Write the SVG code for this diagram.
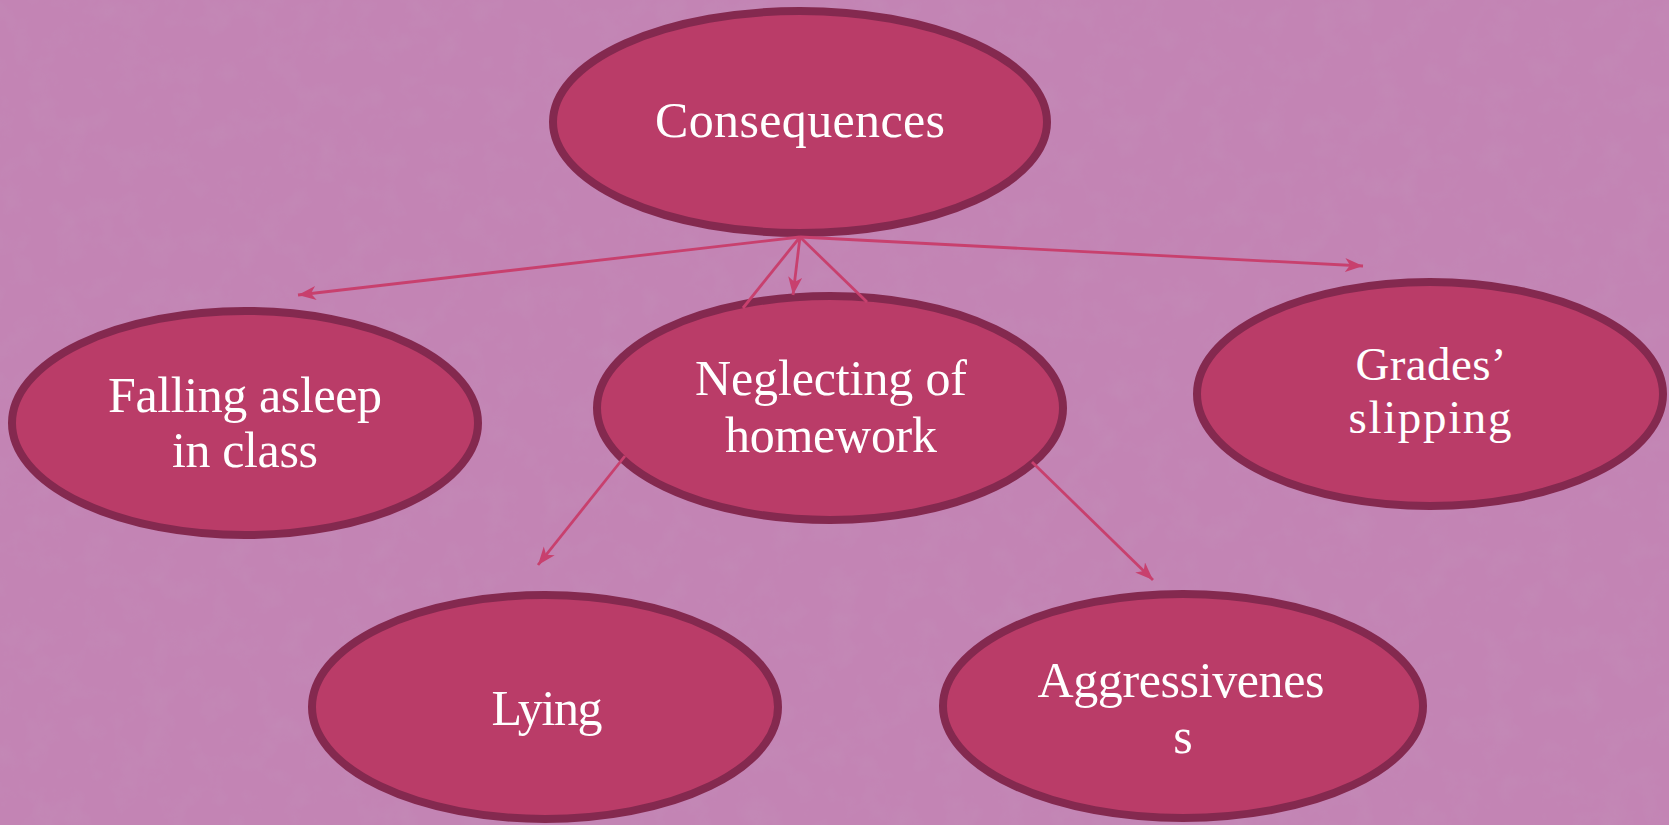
<svg xmlns="http://www.w3.org/2000/svg" width="1669" height="825" viewBox="0 0 1669 825">
<style>
.node{fill:#BA3C68;stroke:#84294F;stroke-width:8}
.lbl{font-family:"Liberation Serif","Times New Roman",serif;font-size:50px;fill:#FFFFFF;text-anchor:middle}
.sm{font-size:47px}
.conn{stroke:#C8406E;stroke-width:2.8;fill:none}
</style>
<defs>
<marker id="arr" markerUnits="userSpaceOnUse" markerWidth="20" markerHeight="16" refX="18" refY="7" orient="auto">
<path d="M0,0 L18,7 L0,14 L5,7 z" fill="#C8406E"/>
</marker>
<filter id="tex" x="0" y="0" width="100%" height="100%">
<feTurbulence type="fractalNoise" baseFrequency="0.035" numOctaves="4" seed="7" result="n"/>
<feColorMatrix in="n" type="matrix" values="0 0 0 0 0.55  0 0 0 0 0.3  0 0 0 0 0.5  0 0 0 -1.6 0.9" result="c"/>
<feComposite in="c" in2="SourceGraphic" operator="in"/>
</filter>
</defs>
<rect width="1669" height="825" fill="#C384B4"/>
<rect width="1669" height="825" fill="#C384B4" filter="url(#tex)" opacity="0.35"/>
<g id="n-consequences">
<ellipse class="node" cx="800" cy="122" rx="247" ry="111"/>
<text class="lbl" x="800" y="137" textLength="290" lengthAdjust="spacing">Consequences</text>
</g>
<g id="n-falling">
<ellipse class="node" cx="245" cy="423" rx="233" ry="112"/>
<text class="lbl" x="245" y="412" textLength="274" lengthAdjust="spacing">Falling asleep</text>
<text class="lbl" x="245" y="467" textLength="146" lengthAdjust="spacing">in class</text>
</g>
<g id="n-neglecting">
<ellipse class="node" cx="830" cy="408" rx="233" ry="112"/>
<text class="lbl" x="831" y="395" textLength="272" lengthAdjust="spacing">Neglecting of</text>
<text class="lbl" x="831" y="452" textLength="212" lengthAdjust="spacing">homework</text>
</g>
<g id="n-grades">
<ellipse class="node" cx="1430" cy="394" rx="233" ry="112"/>
<text class="lbl sm" x="1431" y="380" textLength="151" lengthAdjust="spacing">Grades’</text>
<text class="lbl sm" x="1430" y="433" textLength="163" lengthAdjust="spacing">slipping</text>
</g>
<g id="n-lying">
<ellipse class="node" cx="545" cy="707" rx="233" ry="112"/>
<text class="lbl" x="547" y="725" textLength="111" lengthAdjust="spacing">Lying</text>
</g>
<g id="n-aggressiveness">
<ellipse class="node" cx="1183" cy="706" rx="240" ry="112"/>
<text class="lbl" x="1181" y="697" textLength="287" lengthAdjust="spacing">Aggressivenes</text>
<text class="lbl" x="1183" y="753">s</text>
</g>
<g id="connectors">
<line class="conn" x1="800" y1="237" x2="298" y2="295" marker-end="url(#arr)"/>
<line class="conn" x1="800" y1="237" x2="1363" y2="266" marker-end="url(#arr)"/>
<line class="conn" x1="800" y1="237" x2="793" y2="295" marker-end="url(#arr)"/>
<line class="conn" x1="800" y1="237" x2="743" y2="308"/>
<line class="conn" x1="800" y1="237" x2="867" y2="302"/>
<line class="conn" x1="625" y1="456" x2="538" y2="565" marker-end="url(#arr)"/>
<line class="conn" x1="1032" y1="462" x2="1153" y2="580" marker-end="url(#arr)"/>
</g>
</svg>
